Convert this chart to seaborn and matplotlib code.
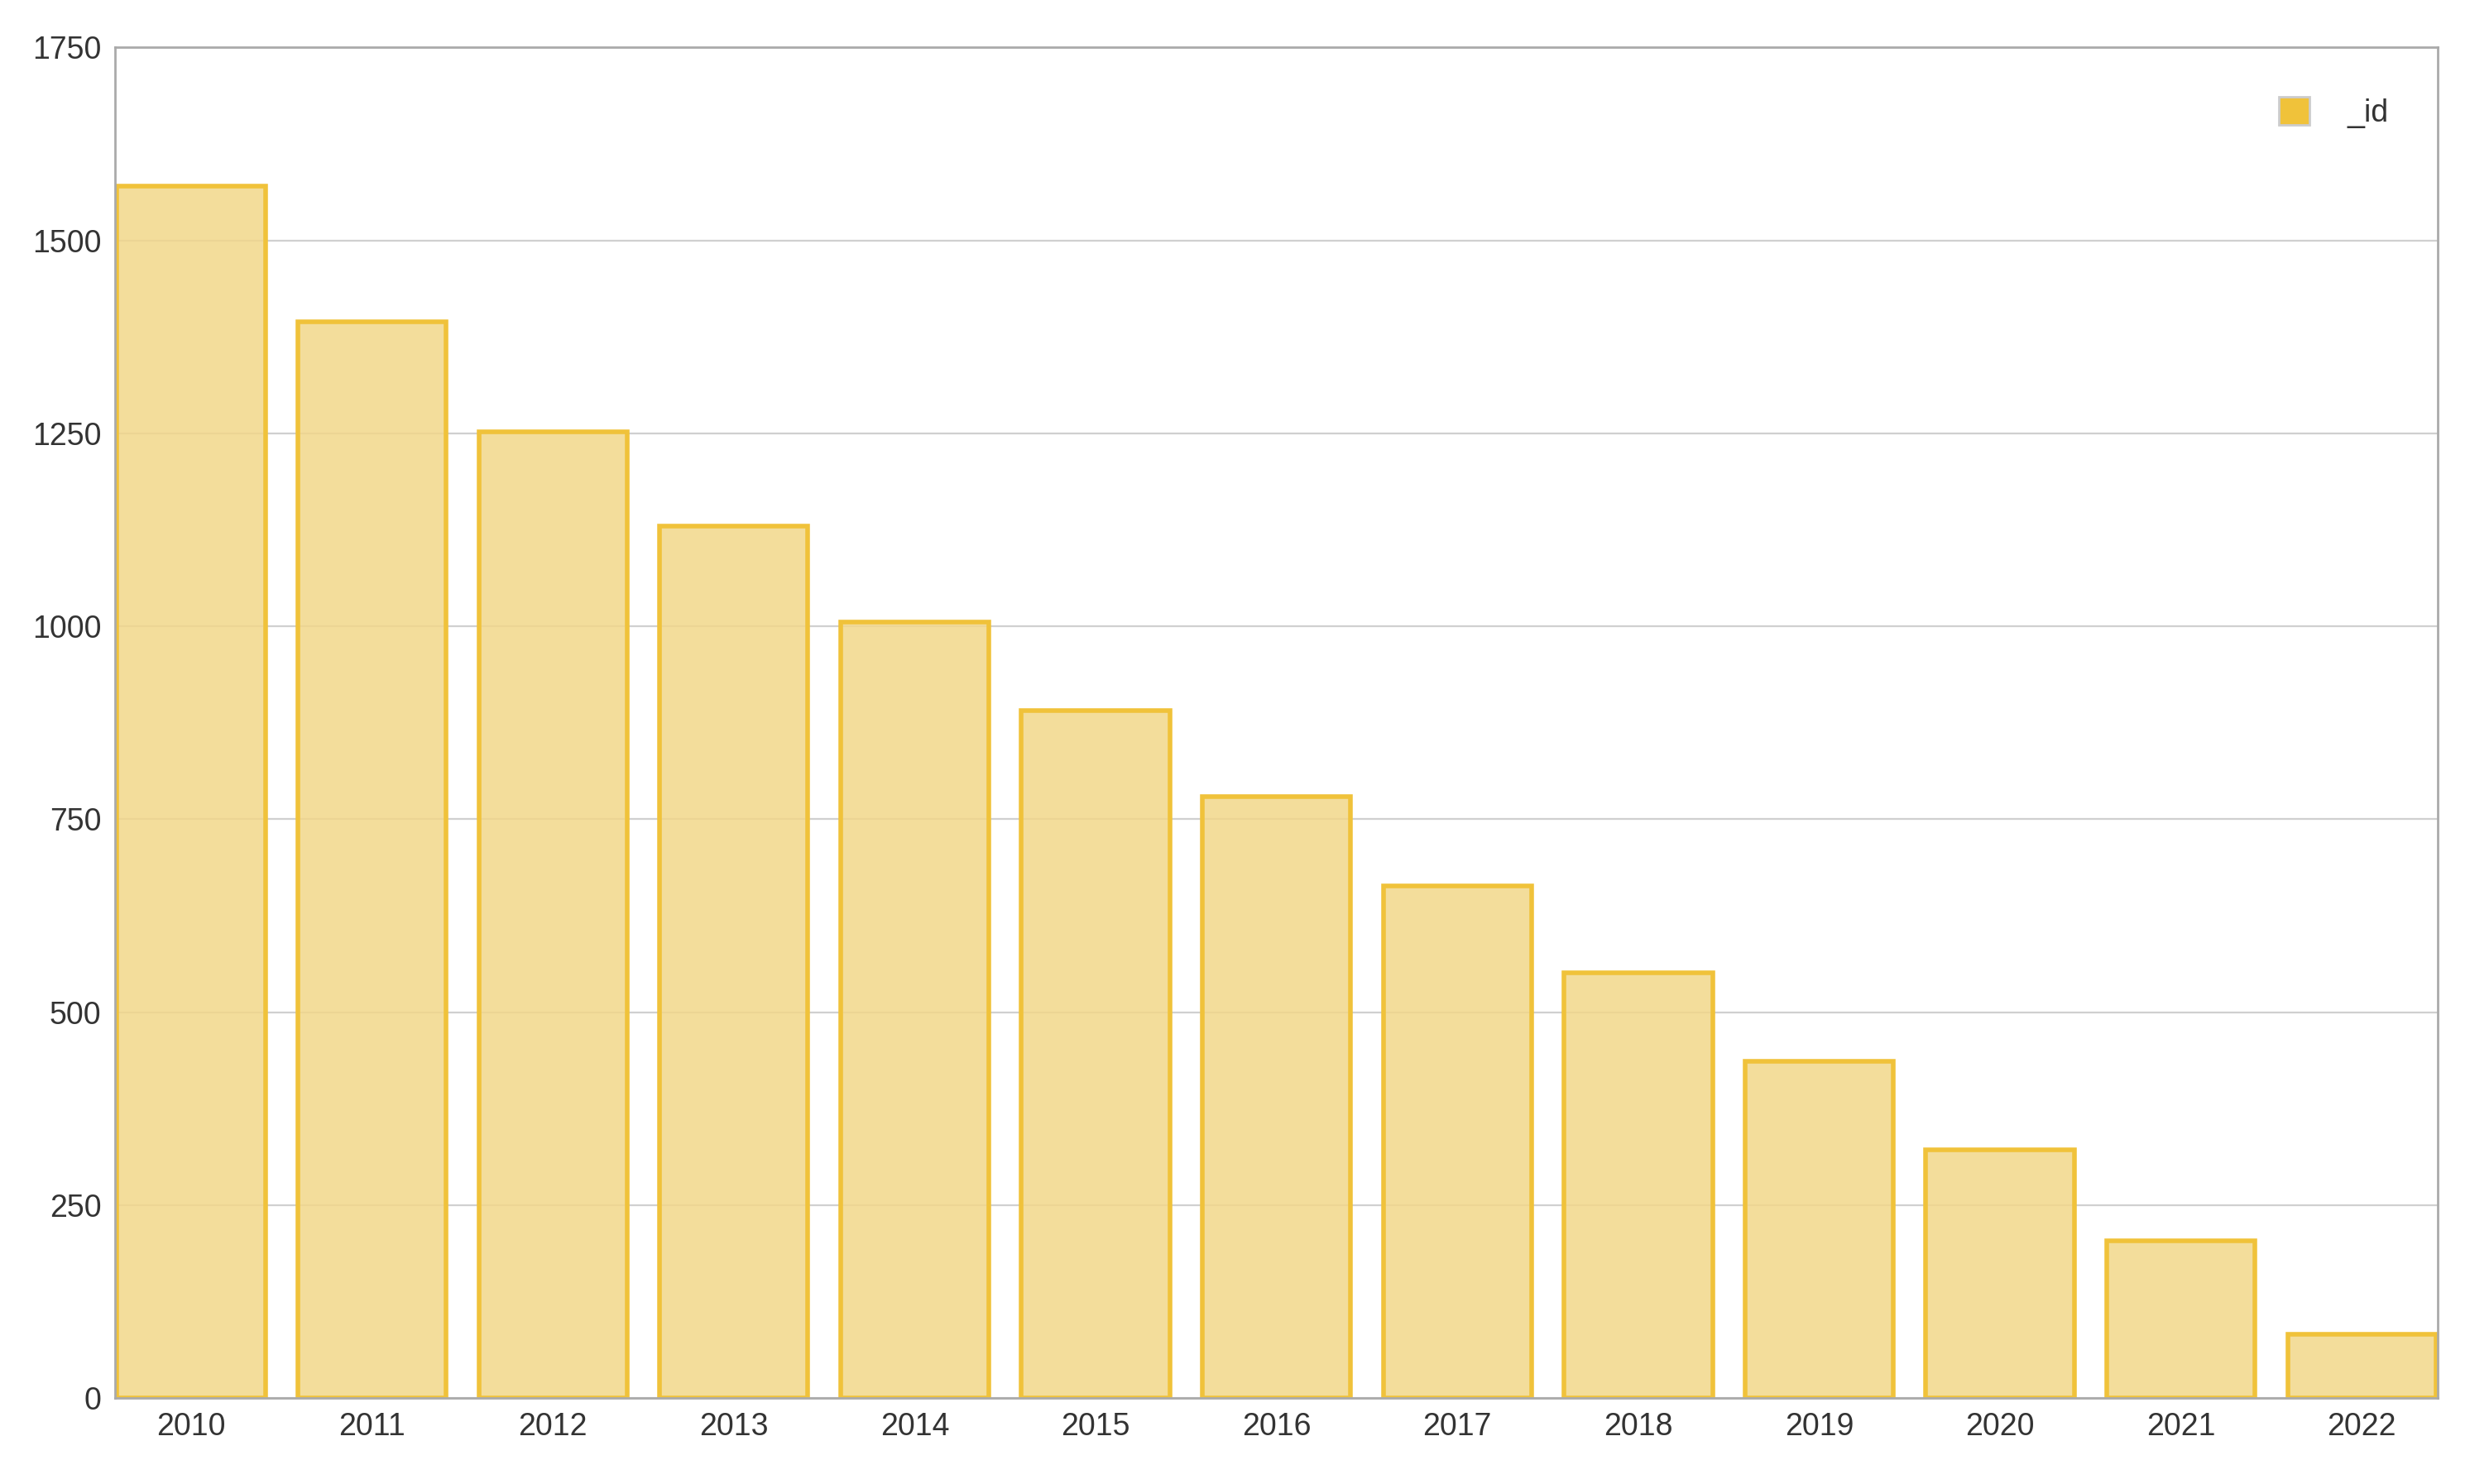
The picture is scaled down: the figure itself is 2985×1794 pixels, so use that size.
import matplotlib
matplotlib.use('Agg')
import matplotlib.pyplot as plt
import matplotlib.patches as mpatches
import seaborn as sns
import pandas as pd

years = ['2010', '2011', '2012', '2013', '2014', '2015', '2016',
         '2017', '2018', '2019', '2020', '2021', '2022']
counts = [1570, 1395, 1252, 1130, 1005, 891, 779, 663, 551, 436, 322, 204, 82]

sns.set_style("white")
plt.rcParams['font.family'] = ['Liberation Sans', 'DejaVu Sans']

df = pd.DataFrame({'year': years, 'count': counts})

fig = plt.figure(figsize=(29.85, 17.94), dpi=100)
ax = fig.add_axes([0.0466, 0.058, 0.9404, 0.91])

fill = '#f2d78a'
edge = '#f0c23a'
ax.grid(True, color='#d0d0d0', linewidth=1.6, zorder=0)
ax.set_axisbelow(True)
sns.barplot(data=df, x='year', y='count', color=fill, saturation=1,
            width=0.82, edgecolor=edge, linewidth=4, ax=ax, zorder=2)
for p in ax.patches:
    p.set_facecolor((0.949, 0.843, 0.541, 0.85))

ax.set_xlim(-0.42, 12.42)
ax.set_ylim(0, 1750)
ax.set_yticks(range(0, 1751, 250))
ax.set_xlabel('')
ax.set_ylabel('')
ax.tick_params(axis='both', labelsize=27, colors='#333333', length=0, pad=12)
for s in ax.spines.values():
    s.set_color('#aaaaaa')
    s.set_linewidth(2)

handle = mpatches.Patch(facecolor='#f0c23a', edgecolor='#cccccc', linewidth=2)
ax.legend([handle], ['_id'], loc='upper right', frameon=False, fontsize=27,
          handlelength=1.0, handleheight=1.0, handletextpad=1.2,
          borderaxespad=1.2, labelcolor='#333333')

fig.savefig('out.png', dpi=100)
